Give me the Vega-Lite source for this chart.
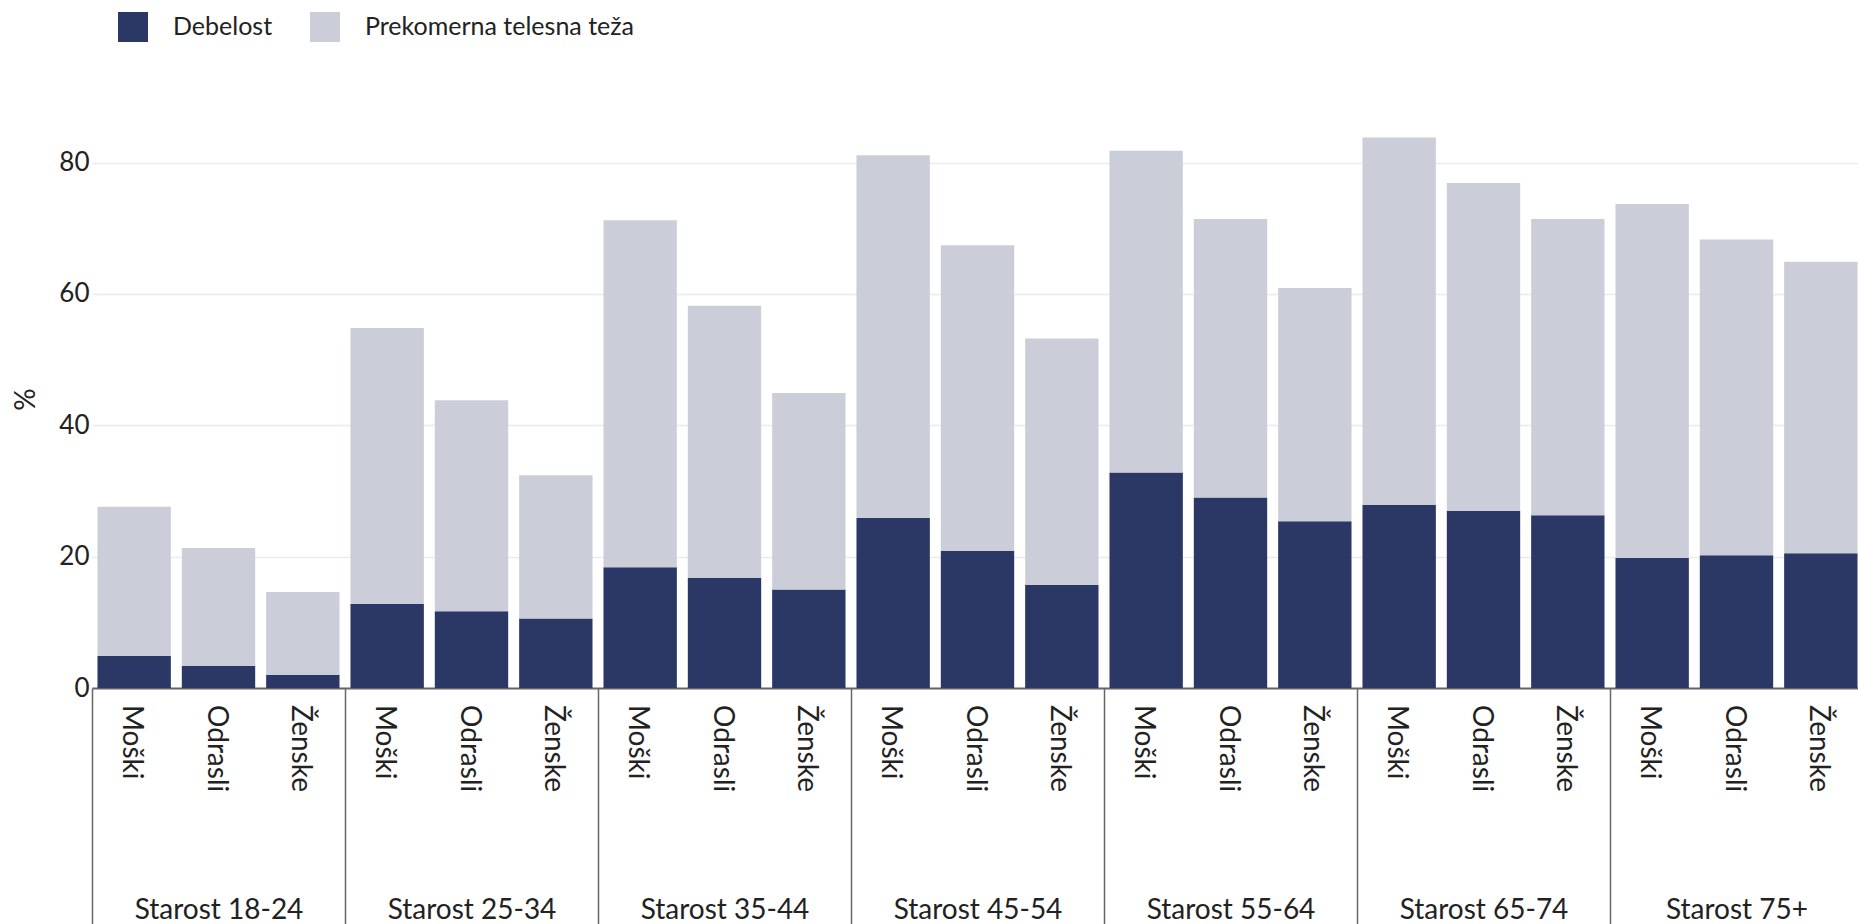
{
  "$schema": "https://vega.github.io/schema/vega-lite/v6.json",
  "autosize": {"type": "none"},
  "padding": {"left": 92, "top": 110, "right": 0, "bottom": 236},
  "width": 1771,
  "height": 578,
  "config": {
    "font": "Lato",
    "view": {"stroke": null},
    "axis": {"labelColor": "#222222", "titleColor": "#222222", "labelFontSize": 26, "titleFontSize": 28, "titleFontWeight": "normal"}
  },
  "data": {
    "values": [
      {"group": "Starost 18-24", "sub": "Moški", "category": "Debelost", "value": 4.9},
      {"group": "Starost 18-24", "sub": "Moški", "category": "Prekomerna telesna teža", "value": 22.7},
      {"group": "Starost 18-24", "sub": "Odrasli", "category": "Debelost", "value": 3.4},
      {"group": "Starost 18-24", "sub": "Odrasli", "category": "Prekomerna telesna teža", "value": 17.9},
      {"group": "Starost 18-24", "sub": "Ženske", "category": "Debelost", "value": 2.0},
      {"group": "Starost 18-24", "sub": "Ženske", "category": "Prekomerna telesna teža", "value": 12.6},
      {"group": "Starost 25-34", "sub": "Moški", "category": "Debelost", "value": 12.8},
      {"group": "Starost 25-34", "sub": "Moški", "category": "Prekomerna telesna teža", "value": 42.0},
      {"group": "Starost 25-34", "sub": "Odrasli", "category": "Debelost", "value": 11.7},
      {"group": "Starost 25-34", "sub": "Odrasli", "category": "Prekomerna telesna teža", "value": 32.1},
      {"group": "Starost 25-34", "sub": "Ženske", "category": "Debelost", "value": 10.6},
      {"group": "Starost 25-34", "sub": "Ženske", "category": "Prekomerna telesna teža", "value": 21.8},
      {"group": "Starost 35-44", "sub": "Moški", "category": "Debelost", "value": 18.4},
      {"group": "Starost 35-44", "sub": "Moški", "category": "Prekomerna telesna teža", "value": 52.8},
      {"group": "Starost 35-44", "sub": "Odrasli", "category": "Debelost", "value": 16.8},
      {"group": "Starost 35-44", "sub": "Odrasli", "category": "Prekomerna telesna teža", "value": 41.4},
      {"group": "Starost 35-44", "sub": "Ženske", "category": "Debelost", "value": 15.0},
      {"group": "Starost 35-44", "sub": "Ženske", "category": "Prekomerna telesna teža", "value": 29.9},
      {"group": "Starost 45-54", "sub": "Moški", "category": "Debelost", "value": 25.9},
      {"group": "Starost 45-54", "sub": "Moški", "category": "Prekomerna telesna teža", "value": 55.2},
      {"group": "Starost 45-54", "sub": "Odrasli", "category": "Debelost", "value": 20.9},
      {"group": "Starost 45-54", "sub": "Odrasli", "category": "Prekomerna telesna teža", "value": 46.5},
      {"group": "Starost 45-54", "sub": "Ženske", "category": "Debelost", "value": 15.7},
      {"group": "Starost 45-54", "sub": "Ženske", "category": "Prekomerna telesna teža", "value": 37.5},
      {"group": "Starost 55-64", "sub": "Moški", "category": "Debelost", "value": 32.8},
      {"group": "Starost 55-64", "sub": "Moški", "category": "Prekomerna telesna teža", "value": 49.0},
      {"group": "Starost 55-64", "sub": "Odrasli", "category": "Debelost", "value": 29.0},
      {"group": "Starost 55-64", "sub": "Odrasli", "category": "Prekomerna telesna teža", "value": 42.4},
      {"group": "Starost 55-64", "sub": "Ženske", "category": "Debelost", "value": 25.4},
      {"group": "Starost 55-64", "sub": "Ženske", "category": "Prekomerna telesna teža", "value": 35.5},
      {"group": "Starost 65-74", "sub": "Moški", "category": "Debelost", "value": 27.9},
      {"group": "Starost 65-74", "sub": "Moški", "category": "Prekomerna telesna teža", "value": 55.9},
      {"group": "Starost 65-74", "sub": "Odrasli", "category": "Debelost", "value": 27.0},
      {"group": "Starost 65-74", "sub": "Odrasli", "category": "Prekomerna telesna teža", "value": 49.9},
      {"group": "Starost 65-74", "sub": "Ženske", "category": "Debelost", "value": 26.3},
      {"group": "Starost 65-74", "sub": "Ženske", "category": "Prekomerna telesna teža", "value": 45.1},
      {"group": "Starost 75+", "sub": "Moški", "category": "Debelost", "value": 19.8},
      {"group": "Starost 75+", "sub": "Moški", "category": "Prekomerna telesna teža", "value": 53.9},
      {"group": "Starost 75+", "sub": "Odrasli", "category": "Debelost", "value": 20.2},
      {"group": "Starost 75+", "sub": "Odrasli", "category": "Prekomerna telesna teža", "value": 48.1},
      {"group": "Starost 75+", "sub": "Ženske", "category": "Debelost", "value": 20.5},
      {"group": "Starost 75+", "sub": "Ženske", "category": "Prekomerna telesna teža", "value": 44.4}
    ]
  },
  "encoding": {
    "x": {
      "field": "group",
      "type": "nominal",
      "sort": null,
      "scale": {"paddingInner": 0, "paddingOuter": 0},
      "axis": {
        "title": null,
        "labelAngle": 0,
        "labelFontSize": 28,
        "labelBaseline": "alphabetic",
        "labelPadding": -10,
        "tickBand": "extent",
        "tickSize": 240,
        "tickColor": "#666666",
        "tickWidth": 1.5,
        "domainColor": "#666666",
        "domainWidth": 2,
        "grid": false,
        "zindex": 0
      }
    },
    "xOffset": {
      "field": "sub",
      "type": "nominal",
      "sort": ["Moški", "Odrasli", "Ženske"],
      "scale": {"paddingInner": 0.13, "paddingOuter": 0.065}
    }
  },
  "layer": [
    {
      "mark": {"type": "bar"},
      "encoding": {
        "y": {
          "field": "value",
          "type": "quantitative",
          "stack": "zero",
          "scale": {"domain": [0, 88], "nice": false},
          "axis": {
            "title": "%",
            "titlePadding": 18,
            "values": [0, 20, 40, 60, 80],
            "domain": false,
            "ticks": false,
            "labelPadding": 3,
            "gridColor": "#ebebeb",
            "gridWidth": 1.5
          }
        },
        "color": {
          "field": "category",
          "type": "nominal",
          "scale": {"domain": ["Debelost", "Prekomerna telesna teža"], "range": ["#2b3764", "#cbcdd9"]},
          "legend": {
            "title": null,
            "orient": "none",
            "legendX": 26,
            "legendY": -98,
            "direction": "horizontal",
            "symbolType": "square",
            "symbolSize": 900,
            "symbolStrokeWidth": 0,
            "labelFontSize": 25,
            "labelLimit": 500,
            "labelColor": "#222222",
            "labelOffset": 25,
            "columnPadding": 37
          }
        },
        "order": {"field": "category", "sort": "ascending"}
      }
    },
    {
      "transform": [{"filter": "datum.category === 'Debelost'"}],
      "mark": {"type": "text", "angle": 90, "align": "left", "baseline": "middle", "dx": 17, "dy": 3, "fontSize": 28, "color": "#222222"},
      "encoding": {
        "y": {"datum": 0},
        "text": {"field": "sub"}
      }
    }
  ]
}
